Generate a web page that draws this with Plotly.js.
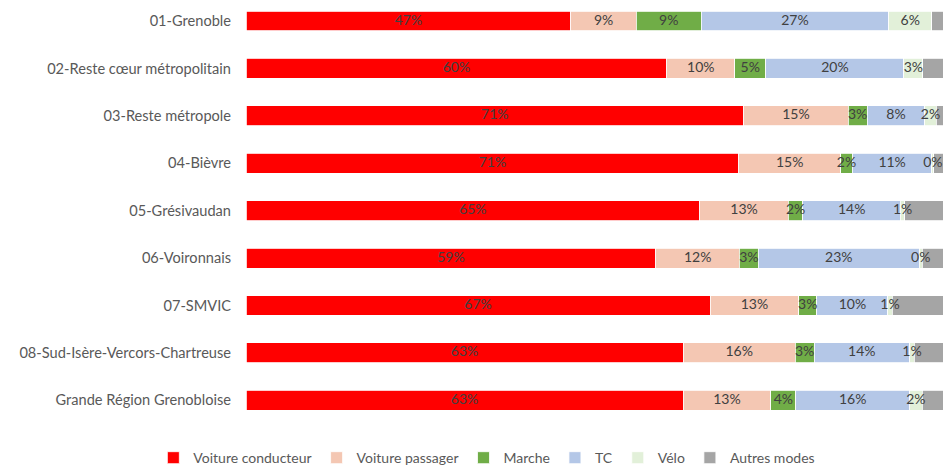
<!DOCTYPE html>
<html><head><meta charset="utf-8">
<script src="https://cdn.plot.ly/plotly-3.0.1.min.js"></script>
<style>html,body{margin:0;padding:0;background:#fff}#chart{width:949px;height:466px}</style>
</head><body><div id="chart"></div>
<script>
const categories = ["01-Grenoble","02-Reste cœur métropolitain","03-Reste métropole","04-Bièvre","05-Grésivaudan","06-Voironnais","07-SMVIC","08-Sud-Isère-Vercors-Chartreuse","Grande Région Grenobloise"];
const seriesNames = ["Voiture conducteur","Voiture passager","Marche","TC","Vélo","Autres modes"];
const voitureConducteur = [46.6,60.4,71.4,70.7,65.1,58.8,66.6,62.7,62.7];
const voiturePassager   = [9.4,9.7,15.0,14.6,12.7,12.0,12.7,16.1,12.6];
const marche            = [9.3,4.5,2.7,1.7,2.1,2.7,2.6,2.7,3.6];
const tc                = [26.9,19.8,8.3,11.4,14.0,23.1,10.2,13.7,16.3];
const velo              = [6.2,2.7,1.6,0.3,0.6,0.4,0.6,0.7,1.8];
const autresModes       = [1.6,2.9,1.0,1.3,5.5,3.0,7.3,4.1,3.0];
const colors = ["#FF0000","#F4C7B3","#70AD47","#B4C7E7","#E2F0D9","#A5A5A5"];
const allSeries = [voitureConducteur,voiturePassager,marche,tc,velo,autresModes];
const showLabels = [true,true,true,true,true,false];

const traces = allSeries.map((vals,i)=>({
  type:'bar', orientation:'h', name:seriesNames[i],
  y:categories, x:vals,
  marker:{color:colors[i], line:{color:'#FFFFFF', width:0.8}},
  hoverinfo:'skip'
}));

// data labels drawn on top of all bars, at the middle of each segment
const cum = categories.map(()=>0);
const lx = [], ly = [], lt = [];
allSeries.forEach((vals,i)=>{
  vals.forEach((v,j)=>{
    if (showLabels[i]) { lx.push(cum[j] + v/2); ly.push(categories[j]); lt.push(Math.round(v) + '%'); }
    cum[j] += v;
  });
});
traces.push({
  type:'scatter', mode:'text', x:lx, y:ly, text:lt, showlegend:false, cliponaxis:false,
  textposition:'middle center',
  textfont:{family:'Lato, sans-serif', size:14, color:'#404040'}, hoverinfo:'skip'
});

const layout = {
  width:949, height:466,
  barmode:'stack', bargap:0.58,
  margin:{l:246, r:6, t:0, b:42},
  paper_bgcolor:'#fff', plot_bgcolor:'#fff',
  font:{family:'Lato, sans-serif', size:14, color:'#595959'},
  xaxis:{range:[0,100], visible:false, showgrid:false, zeroline:false, fixedrange:true},
  yaxis:{type:'category', categoryorder:'array', categoryarray:categories,
         range:[8.5,-0.443], showgrid:false, zeroline:false, showline:false,
         ticks:'', ticklabelstandoff:14,
         tickfont:{family:'Lato, sans-serif', size:14.6, color:'#595959'}},
  showlegend:true,
  legend:{orientation:'h', xref:'container', yref:'container', x:0.513, xanchor:'center',
          y:0.017, yanchor:'middle', traceorder:'normal',
          font:{family:'Lato, sans-serif', size:14, color:'#595959'}, itemwidth:30}
};
Plotly.newPlot('chart', traces, layout, {displayModeBar:false, staticPlot:true});
</script></body></html>
